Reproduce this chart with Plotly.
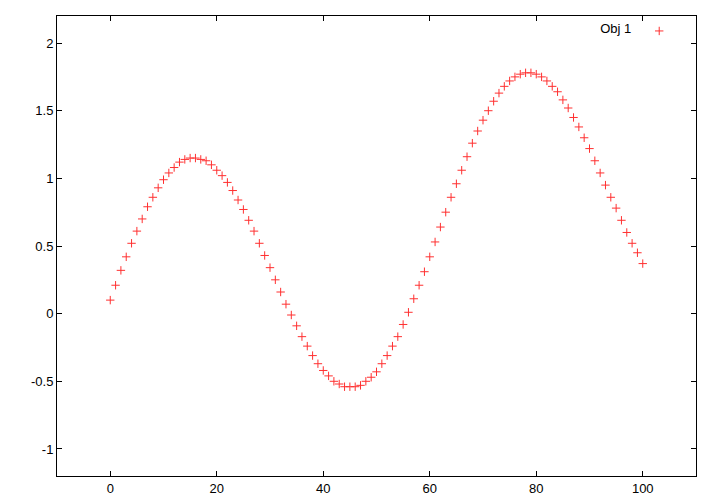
import plotly.graph_objects as go

x_vals = list(range(0, 101))
y_vals = [
    0.10, 0.21, 0.32, 0.42, 0.52, 0.61, 0.70, 0.79, 0.86, 0.93,
    0.99, 1.04, 1.08, 1.12, 1.14, 1.15, 1.15, 1.14, 1.13, 1.10,
    1.06, 1.02, 0.97, 0.91, 0.84, 0.77, 0.69, 0.61, 0.52, 0.43,
    0.34, 0.25, 0.16, 0.07, -0.01, -0.09, -0.17, -0.24, -0.31, -0.37,
    -0.42, -0.46, -0.50, -0.52, -0.54, -0.54, -0.54, -0.53, -0.50, -0.47,
    -0.43, -0.37, -0.31, -0.24, -0.17, -0.08, 0.01, 0.11, 0.21, 0.31,
    0.42, 0.53, 0.64, 0.75, 0.86, 0.96, 1.06, 1.16, 1.26, 1.35,
    1.43, 1.50, 1.57, 1.63, 1.68, 1.72, 1.75, 1.77, 1.78, 1.78,
    1.77, 1.75, 1.72, 1.68, 1.64, 1.58, 1.52, 1.45, 1.38, 1.30,
    1.22, 1.13, 1.04, 0.95, 0.86, 0.78, 0.69, 0.60, 0.52, 0.45,
    0.37,
]
series_name = "Obj 1"
x_ticks = [0, 20, 40, 60, 80, 100]
y_ticks = [-1, -0.5, 0, 0.5, 1, 1.5, 2]

FONT = "Liberation Sans, Arial, Helvetica, sans-serif"

fig = go.Figure()
fig.add_trace(go.Scatter(
    x=x_vals, y=y_vals, mode="markers", name="",
    marker=dict(symbol="cross-thin", size=6,
                line=dict(color="#ff3030", width=1), color="#ff3030"),
    showlegend=True,
))

axis_common = dict(
    showgrid=False, zeroline=False, showline=True, linecolor="black",
    linewidth=1, mirror="ticks", ticks="inside", ticklen=5,
    tickcolor="black", tickwidth=1,
    tickfont=dict(family=FONT, size=13, color="black"),
)

# the page body has an 8px margin, so the figure is offset by 8px
fig.update_layout(
    width=720, height=504,
    margin=dict(l=49, r=32, t=8, b=36),
    plot_bgcolor="white", paper_bgcolor="white",
    xaxis=dict(range=[-10, 110], tickvals=x_ticks, **axis_common),
    yaxis=dict(range=[-1.2, 2.2], tickvals=y_ticks,
               ticktext=[f"{v:g}" for v in y_ticks], **axis_common),
    legend=dict(
        title=dict(text=series_name, side="left",
                   font=dict(family=FONT, size=13, color="black")),
        orientation="h", x=0.983, xanchor="right", y=1, yanchor="top",
        bgcolor="rgba(0,0,0,0)", borderwidth=0,
        font=dict(family=FONT, size=13, color="black"),
    ),
    showlegend=True,
)

fig.write_html("out.html")
